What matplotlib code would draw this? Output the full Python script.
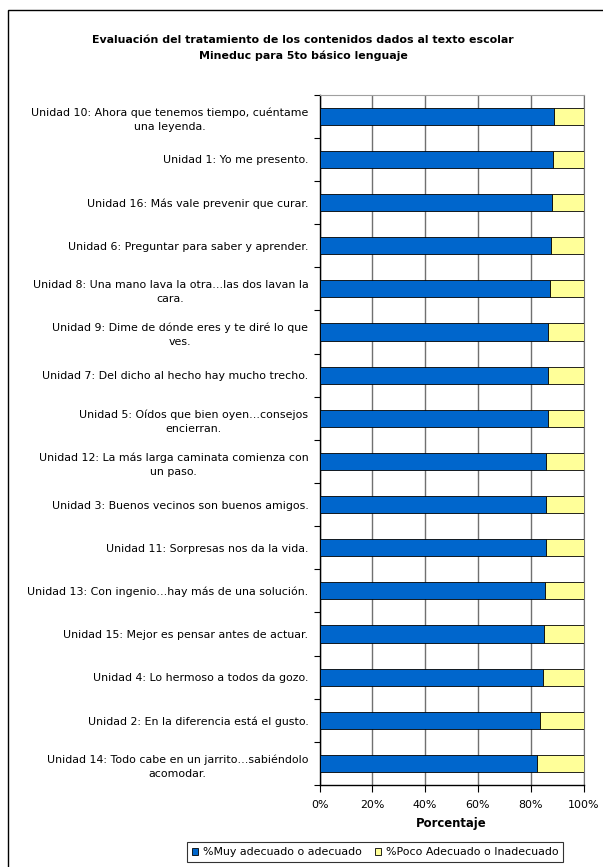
import matplotlib
matplotlib.use("Agg")
import matplotlib.pyplot as plt
from matplotlib.patches import Rectangle
from matplotlib.ticker import FixedLocator, PercentFormatter
import numpy as np

plt.rcParams['font.family'] = ['DejaVu Sans']

categories = [
    "Unidad 10: Ahora que tenemos tiempo, cuéntame\nuna leyenda.",
    "Unidad 1: Yo me presento.",
    "Unidad 16: Más vale prevenir que curar.",
    "Unidad 6: Preguntar para saber y aprender.",
    "Unidad 8: Una mano lava la otra…las dos lavan la\ncara.",
    "Unidad 9: Dime de dónde eres y te diré lo que\nves.",
    "Unidad 7: Del dicho al hecho hay mucho trecho.",
    "Unidad 5: Oídos que bien oyen…consejos\nencierran.",
    "Unidad 12: La más larga caminata comienza con\nun paso.",
    "Unidad 3: Buenos vecinos son buenos amigos.",
    "Unidad 11: Sorpresas nos da la vida.",
    "Unidad 13: Con ingenio…hay más de una solución.",
    "Unidad 15: Mejor es pensar antes de actuar.",
    "Unidad 4: Lo hermoso a todos da gozo.",
    "Unidad 2: En la diferencia está el gusto.",
    "Unidad 14: Todo cabe en un jarrito…sabiéndolo\nacomodar.",
]
muy_adecuado = [89.0, 88.5, 88.1, 87.7, 87.3, 86.7, 86.7, 86.7,
                85.8, 85.8, 85.8, 85.4, 84.9, 84.7, 83.5, 82.2]
poco_adecuado = [100 - v for v in muy_adecuado]
series_names = ["%Muy adecuado o adecuado", "%Poco Adecuado o Inadecuado"]
xticks = [0, 20, 40, 60, 80, 100]

W, H = 603, 867
fs = 7.9
fig = plt.figure(figsize=(W / 100, H / 100), dpi=100)
fig.patch.set_facecolor('white')

# outer frame
fig.add_artist(Rectangle((8 / W, -0.05), 1.1, 1 - 10 / H + 0.05,
                         transform=fig.transFigure, fill=False,
                         edgecolor='black', linewidth=1.0))

ax = fig.add_axes([319.5 / W, 1 - 785 / H, 264 / W, (785 - 94.7) / H])
y = np.arange(len(categories))
ax.barh(y, muy_adecuado, height=0.4, color='#0066CC', edgecolor='black',
        linewidth=0.6, label=series_names[0], zorder=3)
ax.barh(y, poco_adecuado, left=muy_adecuado, height=0.4, color='#FFFF99',
        edgecolor='black', linewidth=0.6, label=series_names[1], zorder=3)

ax.set_xlim(0, 100)
ax.set_ylim(len(categories) - 0.5, -0.5)
ax.set_xticks(xticks)
ax.xaxis.set_major_formatter(PercentFormatter(decimals=0))
ax.grid(axis='x', color='#707070', linewidth=1.0, zorder=0)
ax.set_axisbelow(True)

ax.set_yticks(y)
ax.set_yticklabels(categories, fontsize=fs, multialignment='center',
                   linespacing=1.5)
ax.yaxis.set_minor_locator(FixedLocator(np.arange(-0.5, len(categories), 1.0)))
ax.tick_params(axis='y', which='major', length=0, pad=8)
ax.tick_params(axis='y', which='minor', length=4, width=0.8, direction='out')
ax.tick_params(axis='x', which='major', length=5, width=0.8, direction='out',
               labelsize=fs, pad=6)

for s in ['left', 'bottom']:
    ax.spines[s].set_color('black')
    ax.spines[s].set_linewidth(1.0)
ax.spines['top'].set_color('#A0A0A0')
ax.spines['right'].set_color('#707070')

ax.set_xlabel("Porcentaje", fontsize=fs + 0.5, fontweight='bold', labelpad=5)

fig.text(303 / W, 1 - 48 / H,
         "Evaluación del tratamiento de los contenidos dados al texto escolar\nMineduc para 5to básico lenguaje",
         ha='center', va='center', fontsize=fs, fontweight='bold', linespacing=1.55)

leg = fig.legend(loc='center', bbox_to_anchor=(375 / W, 1 - 852 / H), ncol=2,
                 fontsize=fs, frameon=True, fancybox=False, edgecolor='black',
                 handlelength=0.6, handleheight=0.6, handletextpad=0.4,
                 columnspacing=1.2, borderpad=0.45, borderaxespad=0)
leg.get_frame().set_linewidth(0.8)

fig.savefig("out.png", dpi=100, facecolor='white')
